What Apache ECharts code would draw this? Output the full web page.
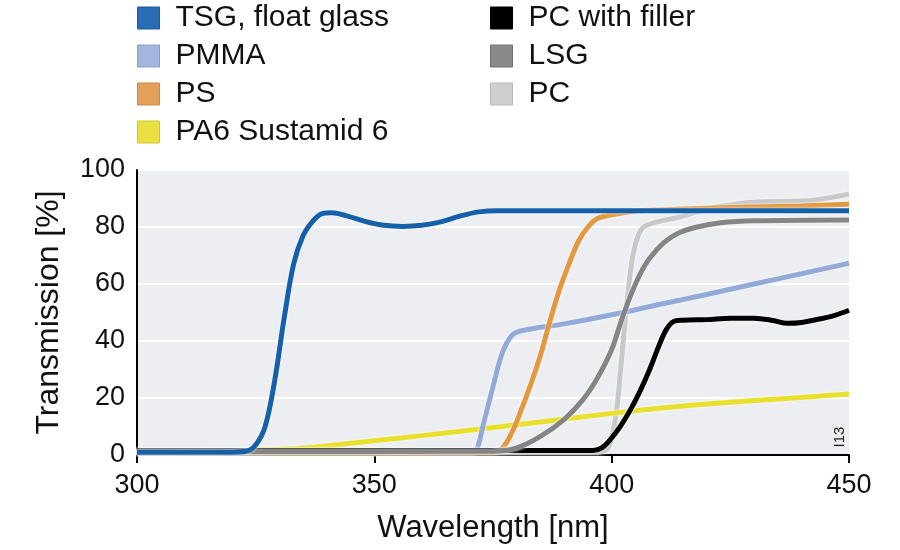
<!DOCTYPE html>
<html>
<head>
<meta charset="utf-8">
<script src="https://cdn.jsdelivr.net/npm/echarts@6/dist/echarts.min.js"></script>
<style>
html,body{margin:0;padding:0;background:#fff;}
#chart{width:900px;height:550px;}
</style>
</head>
<body>
<div id="chart"></div>
<script>
// ---- data (wavelength nm, transmission %) ----
var xTicks = [300, 350, 400, 450];
var yTicks = [0, 20, 40, 60, 80, 100];

var tsgX = [300, 320, 323, 325, 327, 329, 331, 333, 335, 337, 339, 341, 344, 348, 352, 356, 360, 364, 368, 372, 376, 400, 450];
var tsgY = [1, 1, 1.3, 3.5, 10, 26, 48, 67, 77, 82, 84.7, 85, 84, 82, 80.6, 80.2, 80.6, 81.8, 83.8, 85.3, 85.7, 85.7, 85.7];

var pmmaX = [300, 370, 371.5, 373, 375, 377, 379, 381, 390, 400, 410, 420, 430, 440, 450];
var pmmaY = [1, 1, 1.8, 11, 24, 36, 42, 43.6, 46, 49.2, 52.8, 56.3, 60, 63.6, 67.3];

var psX = [300, 375, 377, 379, 381, 383, 385, 387, 389, 391, 393, 395, 397, 400, 405, 410, 420, 430, 440, 450];
var psY = [1, 1, 2.5, 8, 16, 25, 35, 47, 58, 67, 75, 80, 83, 84.3, 85.5, 86, 86.6, 87, 87.4, 88];

var pa6X = [300, 310, 320, 330, 340, 350, 360, 370, 380, 390, 400, 410, 420, 430, 440, 450];
var pa6Y = [1, 1.1, 1.5, 2, 3.2, 5, 6.8, 8.7, 10.6, 12.6, 14.6, 16.4, 17.9, 19.1, 20.2, 21.4];

var pcfX = [300, 396, 398, 400, 402, 404, 406, 408, 410, 411.5, 413, 415, 420, 425, 430, 434, 437, 440, 444, 447, 450];
var pcfY = [1.6, 1.6, 2.6, 6, 10.5, 16, 22.5, 30, 38.5, 44, 46.8, 47.3, 47.5, 48, 48, 47.2, 46.2, 46.5, 47.8, 49, 50.8];

var lsgX = [300, 375, 380, 385, 390, 394, 397, 400, 402, 404, 406, 408, 411, 414, 418, 423, 430, 450];
var lsgY = [1.2, 1.3, 2.5, 6.5, 12.5, 19.5, 27, 37, 47, 56, 63.5, 69, 74.5, 77.8, 80, 81.5, 82.2, 82.5];

var pcX = [300, 397, 399, 400, 401, 402, 403, 404, 405, 406, 407, 410, 414, 418, 422, 426, 430, 437, 442, 446, 450];
var pcY = [1.0, 1.0, 2, 6, 15, 32, 50, 65, 74, 78.5, 80.3, 82, 83.4, 85.3, 87, 88, 88.7, 89, 89.3, 90.3, 91.6];

var names = ['TSG, float glass', 'PMMA', 'PS', 'PA6 Sustamid 6', 'PC with filler', 'LSG', 'PC'];
var lineColors = ['#1660a9', '#93aad9', '#e3993f', '#e8e02c', '#000000', '#858585', '#c8c8c8'];
var iconColors = ['#2a6db5', '#a4b5df', '#e2a05a', '#e9df3e', '#000000', '#8a8a8a', '#cfcfcf'];
var iconBorders = ['#1d5a9a', '#8a9cc8', '#c98a44', '#cfc530', '#000000', '#707070', '#b8b8b8'];

function pairs(xs, ys) {
  var out = [];
  for (var i = 0; i < xs.length; i++) out.push([xs[i], ys[i]]);
  return out;
}

var seriesData = {
  'TSG, float glass': pairs(tsgX, tsgY),
  'PMMA': pairs(pmmaX, pmmaY),
  'PS': pairs(psX, psY),
  'PA6 Sustamid 6': pairs(pa6X, pa6Y),
  'PC with filler': pairs(pcfX, pcfY),
  'LSG': pairs(lsgX, lsgY),
  'PC': pairs(pcX, pcY)
};

// drawing order (bottom to top)
var drawOrder = ['PC', 'PA6 Sustamid 6', 'PMMA', 'PS', 'PC with filler', 'LSG', 'TSG, float glass'];

var series = drawOrder.map(function (n) {
  var idx = names.indexOf(n);
  return {
    name: n,
    type: 'line',
    data: seriesData[n],
    smooth: 0.35,
    showSymbol: false,
    symbol: 'none',
    color: lineColors[idx],
    lineStyle: {
      width: 5,
      color: lineColors[idx],
      shadowColor: 'rgba(255,255,255,0.95)',
      shadowBlur: 3
    },
    z: 2 + drawOrder.indexOf(n),
    animation: false
  };
});

function legendData(list) {
  return list.map(function (n) {
    var idx = names.indexOf(n);
    return { name: n, icon: 'rect', itemStyle: { color: iconColors[idx], borderColor: iconBorders[idx], borderWidth: 1 } };
  });
}

var legendText = { fontFamily: 'Liberation Sans, Arial, sans-serif', fontSize: 30, color: '#111', lineHeight: 30, padding: [0, 0, 0, 11] };

var option = {
  animation: false,
  backgroundColor: '#ffffff',
  textStyle: { fontFamily: 'Liberation Sans, Arial, sans-serif' },
  legend: [
    {
      orient: 'vertical', left: 137, top: 3, padding: 0,
      itemWidth: 22, itemHeight: 22, itemGap: 8,
      selectedMode: false,
      textStyle: legendText,
      data: legendData(names.slice(0, 4))
    },
    {
      orient: 'vertical', left: 490, top: 3, padding: 0,
      itemWidth: 22, itemHeight: 22, itemGap: 8,
      selectedMode: false,
      textStyle: legendText,
      data: legendData(names.slice(4))
    }
  ],
  grid: {
    left: 137, right: 51, top: 170, bottom: 95,
    show: true, backgroundColor: '#eceef1', borderWidth: 0
  },
  xAxis: {
    type: 'value', min: xTicks[0], max: xTicks[xTicks.length - 1], interval: 50,
    name: 'Wavelength [nm]', nameLocation: 'middle', nameGap: 58,
    nameTextStyle: { fontSize: 31, color: '#111' },
    axisLine: { show: true, lineStyle: { color: '#000', width: 2 } },
    axisTick: { show: true, length: 8, lineStyle: { color: '#000', width: 2 } },
    axisLabel: { fontSize: 27, color: '#111', margin: 17 },
    splitLine: { show: false }
  },
  yAxis: {
    type: 'value', min: yTicks[0], max: yTicks[yTicks.length - 1], interval: 20,
    name: 'Transmission [%]', nameLocation: 'middle', nameGap: 72,
    nameTextStyle: { fontSize: 32, color: '#111' },
    axisLine: { show: true, lineStyle: { color: '#000', width: 2 } },
    axisTick: { show: false },
    axisLabel: { fontSize: 27, color: '#111', margin: 12 },
    splitLine: { show: true, lineStyle: { color: '#ffffff', width: 2 } }
  },
  graphic: [
    {
      type: 'text', x: 840, y: 437, rotation: Math.PI / 2,
      style: { text: 'I13', fontSize: 15, fill: '#222', align: 'center', verticalAlign: 'middle', fontFamily: 'Liberation Sans, Arial, sans-serif' },
      z: 100
    }
  ],
  series: series
};

var chart = echarts.init(document.getElementById('chart'), null, { renderer: 'canvas' });
chart.setOption(option);
</script>
</body>
</html>
